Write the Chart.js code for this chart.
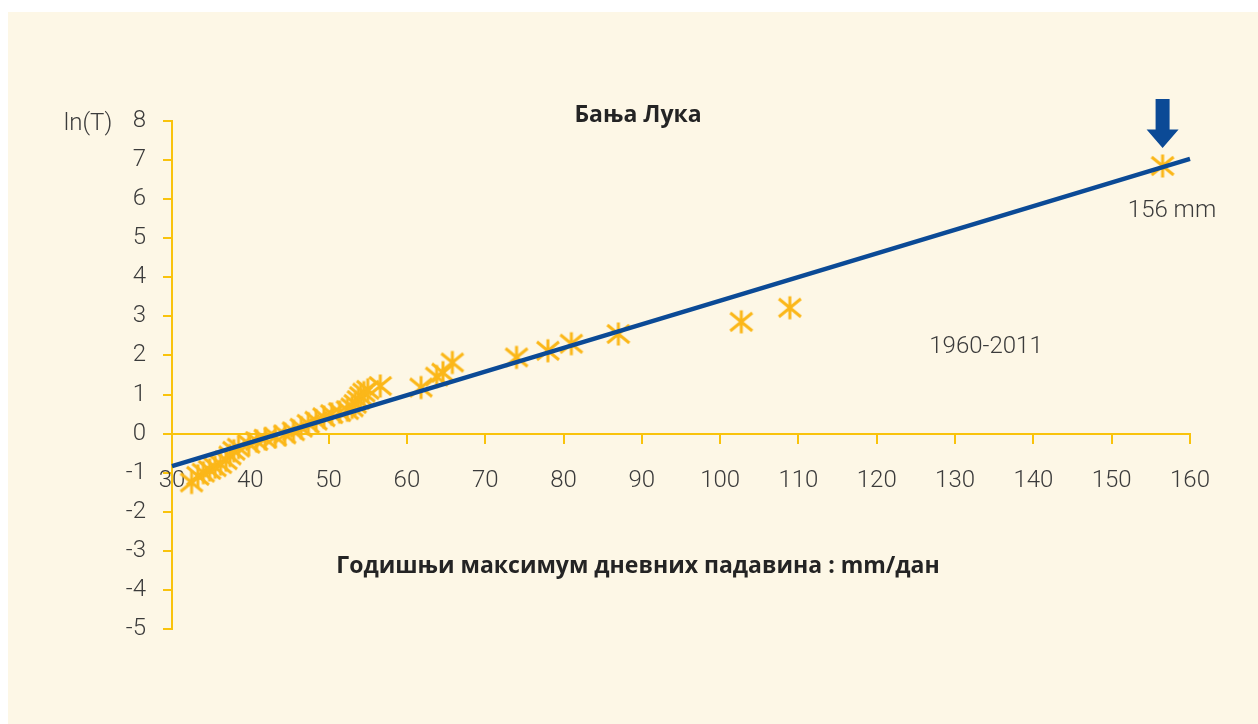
<!DOCTYPE html>
<html>
<head>
<meta charset="utf-8">
<script src="https://cdn.jsdelivr.net/npm/chart.js@4/dist/chart.umd.min.js"></script>
<style>
html,body{margin:0;padding:0;background:#fff;}
#wrap{width:1258px;height:724px;}
</style>
</head>
<body>
<div id="wrap"><canvas id="c" width="1258" height="724"></canvas></div>
<script>
// ---- data ----
const pointsX = [32.5, 33.3, 34.0, 34.8, 35.5, 36.2, 36.9, 37.4, 37.9, 38.5,
                 39.8, 40.8, 41.9, 43.2, 44.4, 45.5, 46.5, 47.4, 48.4, 49.4,
                 50.4, 51.4, 52.4, 53.0, 53.4, 53.8, 54.1, 54.5, 55.0, 56.6,
                 61.8, 63.8, 64.6, 65.8, 74.0, 78.0, 81.0, 87.0, 102.7, 108.9, 156.5];
const pointsY = [-1.25, -1.08, -1.0, -0.93, -0.86, -0.78, -0.68, -0.56, -0.44, -0.36,
                 -0.26, -0.19, -0.13, -0.08, -0.02, 0.06, 0.15, 0.25, 0.33, 0.42,
                 0.5, 0.55, 0.6, 0.67, 0.76, 0.86, 0.96, 1.05, 1.12, 1.22,
                 1.18, 1.46, 1.56, 1.82, 1.95, 2.12, 2.3, 2.55, 2.86, 3.22, 6.85];
const lineX = [30, 160];
const lineY = [-0.83, 7.03];
const xTicks = [30, 40, 50, 60, 70, 80, 90, 100, 110, 120, 130, 140, 150, 160];
const yTicks = [-5, -4, -3, -2, -1, 0, 1, 2, 3, 4, 5, 6, 7, 8];
const arrowX = 156.5, arrowTopY = 8.56, arrowNeckY = 7.78, arrowTipY = 7.31;

const titleText = 'Бања Лука';
const yAxisTitle = 'ln(T)';
const xAxisTitle = 'Годишњи максимум дневних падавина : mm/дан';
const periodText = '1960-2011';
const maxText = '156 mm';

// ---- styles ----
const CREAM = '#fdf7e6';
const YELLOW = '#f9c30c';
const GOLD = '#fbb719';
const BLUE = '#0b4a96';
const TXT = '#3b3b3b';
const FONT = "Roboto, 'DejaVu Sans', sans-serif";
const BFONT = "'Open Sans', 'DejaVu Sans', sans-serif";

// asterisk point style
const star = document.createElement('canvas');
star.width = 28; star.height = 28;
(function(){
  const g = star.getContext('2d');
  g.strokeStyle = GOLD; g.lineWidth = 3; g.lineCap = 'butt';
  g.beginPath();
  g.moveTo(14, 2.5); g.lineTo(14, 25.5);
  g.moveTo(3, 5); g.lineTo(25, 23);
  g.moveTo(3, 23); g.lineTo(25, 5);
  g.stroke();
})();

const bgPlugin = {
  id: 'bg',
  beforeDraw(chart) {
    const c = chart.ctx;
    c.save();
    c.fillStyle = '#ffffff';
    c.fillRect(0, 0, chart.width, chart.height);
    c.fillStyle = CREAM;
    c.fillRect(8, 12, chart.width - 8, chart.height - 12);
    c.restore();
  }
};

const annPlugin = {
  id: 'ann',
  afterDraw(chart) {
    const c = chart.ctx;
    const xs = chart.scales.x, ys = chart.scales.y;
    c.save();
    c.textBaseline = 'middle';
    c.textAlign = 'center';
    c.font = "bold 23px " + BFONT;
    c.fillStyle = '#242424';
    c.fillText(titleText, 638, 115);
    c.fillText(xAxisTitle, 638, 566);
    c.fillStyle = TXT;
    c.font = "300 24px " + FONT;
    c.fillText(yAxisTitle, 88, 124);
    c.fillText(periodText, 986, 347);
    c.fillText(maxText, 1172, 211);
    // arrow
    const ax = xs.getPixelForValue(arrowX);
    const t = ys.getPixelForValue(arrowTopY);
    const n = ys.getPixelForValue(arrowNeckY);
    const p = ys.getPixelForValue(arrowTipY);
    c.fillStyle = BLUE;
    c.beginPath();
    c.moveTo(ax - 7, t); c.lineTo(ax + 7, t); c.lineTo(ax + 7, n);
    c.lineTo(ax + 16, n); c.lineTo(ax, p); c.lineTo(ax - 16, n);
    c.lineTo(ax - 7, n); c.closePath();
    c.fill();
    c.restore();
  }
};

new Chart(document.getElementById('c'), {
  type: 'scatter',
  data: {
    datasets: [
      {
        data: lineX.map((x, i) => ({x, y: lineY[i]})),
        showLine: true, borderColor: BLUE, borderWidth: 4.5,
        pointRadius: 0, order: 0, clip: false
      },
      {
        data: pointsX.map((x, i) => ({x, y: pointsY[i]})),
        pointStyle: star, pointRadius: 12, order: 1, clip: false
      }
    ]
  },
  options: {
    responsive: false, animation: false, devicePixelRatio: 1,
    layout: { padding: { left: 0, top: 121, right: 68, bottom: 95 } },
    plugins: { legend: { display: false }, tooltip: { enabled: false }, title: { display: false } },
    scales: {
      x: {
        type: 'linear', min: 30, max: 160, position: { y: 0 },
        afterBuildTicks: s => { s.ticks = xTicks.map(v => ({ value: v })); },
        ticks: { color: TXT, font: { family: FONT, size: 24, weight: '300' }, padding: 24, maxRotation: 0, autoSkip: false },
        grid: { drawOnChartArea: false, drawTicks: true, tickLength: 9, color: YELLOW, lineWidth: 2 },
        border: { display: true, color: YELLOW, width: 2 }
      },
      y: {
        type: 'linear', min: -5, max: 8, position: 'left',
        afterFit: s => { s.width = 172; },
        afterBuildTicks: s => { s.ticks = yTicks.map(v => ({ value: v })); },
        ticks: { color: TXT, font: { family: FONT, size: 24, weight: '300' }, padding: 17 },
        grid: { drawOnChartArea: false, drawTicks: true, tickLength: 9, color: YELLOW, lineWidth: 2 },
        border: { display: true, color: YELLOW, width: 2 }
      }
    }
  },
  plugins: [bgPlugin, annPlugin]
});
</script>
</body>
</html>
